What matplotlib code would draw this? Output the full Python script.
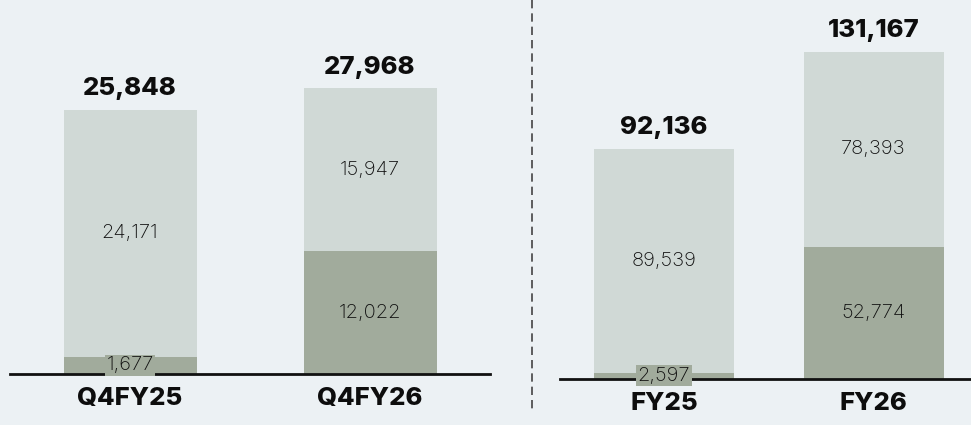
import matplotlib
matplotlib.use("Agg")
import matplotlib.pyplot as plt
from matplotlib.lines import Line2D

plt.rcParams['font.family'] = ['Inter', 'DejaVu Sans']

# Data
q_categories = ["Q4FY25", "Q4FY26"]
q_bottom = [1677, 12022]
q_top = [24171, 15947]
q_total = [25848, 27968]

fy_categories = ["FY25", "FY26"]
fy_bottom = [2597, 52774]
fy_top = [89539, 78393]
fy_total = [92136, 131167]

BG = "#ecf1f4"
C_TOP = "#d0d9d6"
C_BOT = "#a1ab9c"

W, H = 971, 425
fig = plt.figure(figsize=(W / 100, H / 100), dpi=100, facecolor=BG)

BIG = 18.5
SMALL = 14.5


def panel(x0, x1, ybase, ymax, xlim, width, cats, bot, top, tot):
    ax = fig.add_axes([x0 / W, (H - ybase) / H, (x1 - x0) / W, ybase / H])
    ax.set_facecolor(BG)
    ax.patch.set_alpha(0)
    xs = list(range(len(cats)))
    ax.bar(xs, bot, width=width, color=C_BOT, zorder=2)
    ax.bar(xs, top, width=width, bottom=bot, color=C_TOP, zorder=2)
    ax.set_xlim(*xlim)
    ax.set_ylim(0, ymax)
    for s in ["top", "right", "left"]:
        ax.spines[s].set_visible(False)
    ax.spines["bottom"].set_linewidth(2)
    ax.spines["bottom"].set_color("#111111")
    ax.spines["bottom"].set_zorder(3)
    ax.set_yticks([])
    ax.set_xticks(xs)
    ax.set_xticklabels(cats, fontsize=BIG, fontweight="heavy", color="#0d0d0d")
    ax.tick_params(axis="x", length=0, pad=9)
    for x, b, t, s in zip(xs, bot, top, tot):
        ax.annotate(f"{s:,}", (x, s), xytext=(0, 7), textcoords="offset points",
                    ha="center", va="bottom", fontsize=BIG, fontweight="heavy",
                    color="#0d0d0d")
        ax.text(x, b + t / 2, f"{t:,}", ha="center", va="center", fontsize=SMALL,
                fontweight="light", color="#0f0f0f", zorder=4)
        if b / ymax < 0.06:
            ax.text(x, b / 2, f"{b:,}", ha="center", va="center", fontsize=SMALL,
                    fontweight="light", color="#0f0f0f", zorder=4,
                    bbox=dict(boxstyle="square,pad=0.08", fc=C_BOT, ec="none"))
        else:
            ax.text(x, b / 2, f"{b:,}", ha="center", va="center", fontsize=SMALL,
                    fontweight="light", color="#0f0f0f", zorder=4)
    return ax


# left panel: scale 264 px for 25848
panel(10, 490, 374, 374 / (264 / 25848), (-0.5, 1.5), 133 / 240,
      q_categories, q_bottom, q_top, q_total)
# right panel: scale 230 px for 92136
panel(560, 971, 379, 379 / (230 / 92136), (-0.496, 1.465), 140 / 209.5,
      fy_categories, fy_bottom, fy_top, fy_total)

fig.add_artist(Line2D([532 / W, 532 / W], [1, (H - 410) / H], transform=fig.transFigure,
                      color="#444444", lw=1.2, linestyle=(0, (5, 3))))

fig.savefig("out.png", dpi=100, facecolor=BG)
